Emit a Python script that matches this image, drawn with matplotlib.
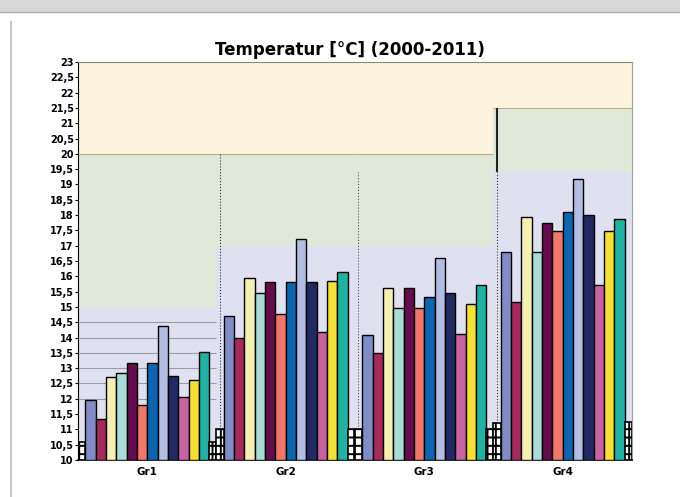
import numpy as np
import matplotlib.pyplot as plt
from matplotlib.patches import Rectangle

# Temperatur je Gruppe, Jahre 2000-2011
groups = ['Gr1', 'Gr2', 'Gr3', 'Gr4']
years = list(range(2000, 2012))
gr1 = [11.96, 11.33, 12.72, 12.85, 13.18, 11.80, 13.16, 14.38, 12.76, 12.07, 12.61, 13.54]
gr2 = [14.72, 14.00, 15.94, 15.45, 15.83, 14.77, 15.83, 17.21, 15.83, 14.19, 15.86, 16.15]
gr3 = [14.08, 13.49, 15.61, 14.96, 15.63, 14.97, 15.31, 16.59, 15.45, 14.11, 15.09, 15.72]
gr4 = [16.78, 15.17, 17.93, 16.81, 17.73, 17.49, 18.11, 19.17, 18.00, 15.72, 17.49, 17.87]
values = [gr1, gr2, gr3, gr4]

# kleine schraffierte Balken am Anfang / Ende jeder Gruppe
hatch_start = [10.6, 11.0, 11.0, 11.2]
hatch_end = [10.6, 11.0, 11.0, 11.25]

# Bereichsgrenzen (lila / gruen / gelb) je Gruppe
band_low = [15.0, 17.0, 17.0, 19.4]
band_high = [20.0, 20.0, 20.0, 21.5]

colors = ['#7f8cc6', '#a82a5c', '#f4f0b2', '#a9dcd6', '#650c4c', '#f0776a',
          '#0b66b0', '#b3bce2', '#222a64', '#c862a0', '#f6e034', '#1fb3a3']

plt.rcParams['hatch.linewidth'] = 1.4

hw = 0.7
gw = hw + 12 + hw

fig = plt.figure(figsize=(6.8, 4.97), dpi=100)
ax = fig.add_axes([0.1147, 0.0744, 0.8147, 0.8009])

for g in range(4):
    x0 = g * gw
    ax.add_patch(Rectangle((x0, 10), gw, band_low[g] - 10, color='#dfe1f0', zorder=0, lw=0))
    ax.add_patch(Rectangle((x0, band_low[g]), gw, band_high[g] - band_low[g], color='#dfe8d9', zorder=0, lw=0))
    ax.add_patch(Rectangle((x0, band_high[g]), gw, 23 - band_high[g], color='#fcf4dc', zorder=0, lw=0))
    ax.hlines(band_high[g], x0, x0 + gw, color='#b9ae88', lw=0.8, zorder=1)

# Hilfslinien im unteren Bereich von Gr1
for yv in [12, 12.5, 13, 13.5, 14, 14.5]:
    ax.hlines(yv, 0, gw, color='#9a9aa8', lw=0.8, zorder=1)

for g in range(4):
    x0 = g * gw
    xs = x0 + hw + 0.5 + np.arange(12)
    ax.bar(xs, np.array(values[g]) - 10, width=1.0, bottom=10, color=colors,
           edgecolor='black', linewidth=1.0, zorder=3)
    ax.bar([x0 + hw / 2, x0 + gw - hw / 2], [hatch_start[g] - 10, hatch_end[g] - 10],
           width=hw, bottom=10, color='white', edgecolor='black', hatch='++',
           linewidth=1.2, zorder=3)

# Trennlinien zwischen den Gruppen
ax.vlines(gw + 0.3, 11.0, 20.0, color='#333333', lw=0.8, linestyles=':', zorder=2)
ax.vlines(2 * gw + 0.3, 11.0, 19.4, color='#555555', lw=0.8, linestyles=':', zorder=2)
ax.vlines(3 * gw + 0.3, 19.4, 21.5, color='#222222', lw=1.5, zorder=2)
ax.vlines(3 * gw + 0.3, 11.2, 19.4, color='#333333', lw=0.8, linestyles=':', zorder=2)

ax.set_xlim(0, 4 * gw)
ax.set_ylim(10, 23)
yt = np.arange(10, 23.01, 0.5)
ax.set_yticks(yt)
ax.set_yticklabels([('%g' % v).replace('.', ',') for v in yt],
                   family=['Liberation Sans Narrow', 'DejaVu Sans'],
                   fontsize=7, fontweight='bold')
ax.tick_params(axis='y', length=2, width=0.8, pad=1)
ax.set_xticks([g * gw + gw / 2 for g in range(4)])
ax.set_xticklabels(groups, fontsize=7.5, fontweight='bold',
                   family=['Liberation Sans Narrow', 'DejaVu Sans'])
ax.tick_params(axis='x', length=0, pad=5)

ax.spines['left'].set_color('black')
ax.spines['bottom'].set_color('black')
ax.spines['bottom'].set_linewidth(1.2)
ax.spines['top'].set_color('#8a8a70')
ax.spines['right'].set_color('#a0a0a0')

fig.text(0.515, 0.9, 'Temperatur [°C] (2000-2011)', ha='center', va='center',
         fontsize=12, fontweight='bold', family=['Liberation Sans Narrow', 'DejaVu Sans'])

# Fensterrahmen des Screenshots
fig.patches.append(Rectangle((0, 0.975), 1, 0.025, transform=fig.transFigure,
                             color='#d8d8d8', zorder=0))
fig.lines.append(plt.Line2D([0.0, 1.0], [0.975, 0.975], transform=fig.transFigure,
                            color='#b0b0b0', lw=1))
fig.lines.append(plt.Line2D([0.016, 0.016], [0.0, 0.955], transform=fig.transFigure,
                            color='#c8c8c8', lw=1.5))

fig.savefig('out.png', dpi=100)
